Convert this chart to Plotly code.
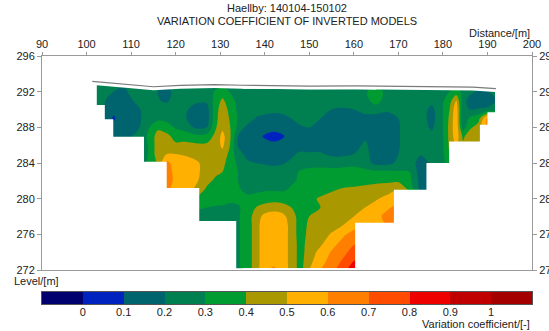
import numpy as np
import plotly.graph_objects as go

# ---------------- data ----------------
DIST = [101, 103.5, 106, 108.5, 111, 113.5, 116, 118, 120, 122, 124.5, 127, 129, 130.5, 132,
        134, 136, 138, 140, 142, 144, 146, 148, 150, 152.5, 155, 157.5, 160, 162.5, 165,
        167.5, 170, 172.5, 175, 177.5, 180, 181.5, 183, 184.5, 186, 188, 190, 192]

LEVEL = [292.8, 292, 291, 290, 289, 288, 287, 286, 285, 284, 283, 282, 281, 280,
         279, 278, 277, 276, 275, 274, 273, 272]

# variation coefficient, one row per level (top to bottom), one value per distance node
VC = [
    [0.25, 0.25, 0.24, 0.22, 0.27, 0.25, 0.24, 0.22, 0.25, 0.25, 0.25, 0.26, 0.27, 0.28, 0.26, 0.25, 0.25, 0.25, 0.25, 0.25,
     0.25, 0.25, 0.25, 0.25, 0.25, 0.25, 0.25, 0.25, 0.26, 0.29, 0.25, 0.25, 0.25, 0.25, 0.25, 0.26, 0.27, 0.28, 0.26, 0.25,
     0.24, 0.24, 0.25],
    [0.25, 0.24, 0.20, 0.16, 0.30, 0.25, 0.20, 0.16, 0.24, 0.25, 0.25, 0.26, 0.31, 0.34, 0.30, 0.26, 0.25, 0.25, 0.25, 0.25,
     0.25, 0.25, 0.25, 0.26, 0.26, 0.26, 0.25, 0.25, 0.28, 0.37, 0.25, 0.25, 0.26, 0.25, 0.25, 0.27, 0.30, 0.34, 0.28, 0.23,
     0.18, 0.19, 0.24],
    [0.25, 0.22, 0.15, 0.13, 0.22, 0.26, 0.21, 0.18, 0.25, 0.25, 0.22, 0.22, 0.34, 0.42, 0.35, 0.27, 0.26, 0.26, 0.26, 0.25,
     0.25, 0.25, 0.25, 0.25, 0.25, 0.24, 0.24, 0.24, 0.26, 0.35, 0.24, 0.25, 0.26, 0.25, 0.23, 0.29, 0.36, 0.50, 0.24, 0.16,
     0.13, 0.14, 0.19],
    [0.25, 0.22, 0.12, 0.13, 0.16, 0.25, 0.27, 0.26, 0.27, 0.22, 0.16, 0.16, 0.36, 0.46, 0.38, 0.28, 0.26, 0.26, 0.24, 0.22,
     0.23, 0.24, 0.25, 0.25, 0.24, 0.20, 0.19, 0.20, 0.23, 0.24, 0.22, 0.24, 0.26, 0.25, 0.17, 0.30, 0.40, 0.57, 0.22, 0.20,
     0.21, 0.22, 0.26],
    [0.25, 0.22, 0.09, 0.14, 0.15, 0.25, 0.27, 0.27, 0.26, 0.21, 0.15, 0.15, 0.37, 0.47, 0.40, 0.29, 0.27, 0.19, 0.17, 0.17,
     0.17, 0.20, 0.23, 0.24, 0.20, 0.15, 0.14, 0.15, 0.17, 0.16, 0.15, 0.20, 0.26, 0.25, 0.16, 0.30, 0.42, 0.58, 0.20, 0.32,
     0.37, 0.62, 0.50],
    [0.25, 0.22, 0.13, 0.15, 0.16, 0.27, 0.38, 0.34, 0.29, 0.26, 0.18, 0.20, 0.39, 0.48, 0.42, 0.27, 0.17, 0.15, 0.14, 0.13,
     0.14, 0.17, 0.19, 0.20, 0.17, 0.13, 0.13, 0.14, 0.16, 0.14, 0.14, 0.19, 0.26, 0.25, 0.18, 0.30, 0.43, 0.58, 0.25, 0.38,
     0.44, 0.62, 0.50],
    [0.25, 0.22, 0.20, 0.16, 0.22, 0.30, 0.44, 0.43, 0.36, 0.35, 0.33, 0.34, 0.43, 0.53, 0.44, 0.20, 0.15, 0.13, 0.09, 0.07,
     0.09, 0.14, 0.14, 0.15, 0.14, 0.13, 0.13, 0.14, 0.18, 0.14, 0.14, 0.19, 0.26, 0.25, 0.23, 0.29, 0.43, 0.56, 0.38, 0.45,
     0.46, 0.50, 0.45],
    [0.25, 0.22, 0.22, 0.22, 0.25, 0.28, 0.45, 0.46, 0.42, 0.43, 0.42, 0.42, 0.45, 0.52, 0.42, 0.19, 0.14, 0.12, 0.13, 0.12,
     0.13, 0.14, 0.15, 0.16, 0.16, 0.14, 0.14, 0.16, 0.22, 0.14, 0.14, 0.19, 0.26, 0.25, 0.25, 0.29, 0.42, 0.52, 0.42, 0.46,
     0.46, 0.45, 0.45],
    [0.25, 0.25, 0.25, 0.25, 0.26, 0.28, 0.45, 0.50, 0.50, 0.49, 0.46, 0.45, 0.45, 0.47, 0.38, 0.24, 0.17, 0.14, 0.14, 0.14,
     0.15, 0.18, 0.22, 0.21, 0.21, 0.18, 0.18, 0.20, 0.23, 0.15, 0.15, 0.20, 0.26, 0.21, 0.25, 0.28, 0.40, 0.50, 0.42, 0.45,
     0.45, 0.45, 0.45],
    [0.28, 0.28, 0.28, 0.28, 0.28, 0.30, 0.42, 0.63, 0.55, 0.54, 0.52, 0.46, 0.44, 0.43, 0.36, 0.28, 0.22, 0.20, 0.19, 0.18,
     0.19, 0.22, 0.26, 0.27, 0.27, 0.26, 0.26, 0.27, 0.24, 0.17, 0.17, 0.22, 0.26, 0.15, 0.22, 0.27, 0.35, 0.45, 0.40, 0.42,
     0.42, 0.42, 0.42],
    [0.30, 0.30, 0.30, 0.30, 0.30, 0.30, 0.50, 0.66, 0.56, 0.56, 0.53, 0.45, 0.42, 0.40, 0.35, 0.30, 0.26, 0.25, 0.25, 0.24,
     0.25, 0.27, 0.31, 0.32, 0.33, 0.33, 0.34, 0.34, 0.33, 0.32, 0.32, 0.31, 0.30, 0.15, 0.20, 0.30, 0.30, 0.30, 0.30, 0.30,
     0.30, 0.30, 0.30],
    [0.30, 0.30, 0.30, 0.30, 0.30, 0.30, 0.55, 0.66, 0.57, 0.56, 0.52, 0.43, 0.38, 0.36, 0.34, 0.30, 0.27, 0.27, 0.27, 0.27,
     0.27, 0.29, 0.31, 0.33, 0.35, 0.35, 0.36, 0.36, 0.37, 0.38, 0.38, 0.38, 0.33, 0.16, 0.20, 0.30, 0.30, 0.30, 0.30, 0.30,
     0.30, 0.30, 0.30],
    [0.30, 0.30, 0.30, 0.30, 0.30, 0.30, 0.55, 0.62, 0.55, 0.55, 0.48, 0.38, 0.36, 0.34, 0.33, 0.31, 0.28, 0.28, 0.29, 0.29,
     0.29, 0.31, 0.32, 0.34, 0.37, 0.39, 0.41, 0.42, 0.43, 0.44, 0.46, 0.50, 0.38, 0.17, 0.20, 0.30, 0.30, 0.30, 0.30, 0.30,
     0.30, 0.30, 0.30],
    [0.40, 0.40, 0.40, 0.40, 0.40, 0.40, 0.40, 0.40, 0.40, 0.40, 0.38, 0.35, 0.34, 0.33, 0.32, 0.32, 0.32, 0.33, 0.35, 0.36,
     0.35, 0.33, 0.34, 0.38, 0.41, 0.43, 0.45, 0.46, 0.47, 0.49, 0.53, 0.57, 0.55, 0.50, 0.50, 0.50, 0.50, 0.50, 0.50, 0.50,
     0.50, 0.50, 0.50],
    [0.35, 0.35, 0.35, 0.35, 0.35, 0.35, 0.35, 0.35, 0.35, 0.35, 0.32, 0.30, 0.29, 0.29, 0.28, 0.29, 0.33, 0.40, 0.44, 0.46,
     0.45, 0.40, 0.35, 0.39, 0.40, 0.42, 0.44, 0.46, 0.50, 0.54, 0.59, 0.62, 0.60, 0.55, 0.55, 0.55, 0.55, 0.55, 0.55, 0.55,
     0.55, 0.55, 0.55],
    [0.30, 0.30, 0.30, 0.30, 0.30, 0.30, 0.30, 0.30, 0.30, 0.30, 0.27, 0.25, 0.25, 0.25, 0.25, 0.29, 0.34, 0.45, 0.53, 0.55,
     0.53, 0.45, 0.35, 0.40, 0.41, 0.44, 0.47, 0.50, 0.53, 0.58, 0.62, 0.64, 0.62, 0.60, 0.60, 0.60, 0.60, 0.60, 0.60, 0.60,
     0.60, 0.60, 0.60],
    [0.25, 0.25, 0.25, 0.25, 0.25, 0.25, 0.25, 0.25, 0.25, 0.25, 0.25, 0.25, 0.25, 0.25, 0.25, 0.29, 0.34, 0.45, 0.57, 0.57,
     0.56, 0.46, 0.35, 0.42, 0.43, 0.46, 0.50, 0.56, 0.60, 0.60, 0.60, 0.60, 0.60, 0.60, 0.60, 0.60, 0.60, 0.60, 0.60, 0.60,
     0.60, 0.60, 0.60],
    [0.25, 0.25, 0.25, 0.25, 0.25, 0.25, 0.25, 0.25, 0.25, 0.25, 0.25, 0.25, 0.25, 0.25, 0.25, 0.29, 0.34, 0.45, 0.57, 0.57,
     0.56, 0.46, 0.35, 0.43, 0.45, 0.51, 0.58, 0.64, 0.67, 0.67, 0.67, 0.67, 0.67, 0.67, 0.67, 0.67, 0.67, 0.67, 0.67, 0.67,
     0.67, 0.67, 0.67],
    [0.25, 0.25, 0.25, 0.25, 0.25, 0.25, 0.25, 0.25, 0.25, 0.25, 0.25, 0.25, 0.25, 0.25, 0.25, 0.29, 0.34, 0.45, 0.57, 0.57,
     0.56, 0.46, 0.36, 0.44, 0.48, 0.56, 0.63, 0.69, 0.72, 0.72, 0.72, 0.72, 0.72, 0.72, 0.72, 0.72, 0.72, 0.72, 0.72, 0.72,
     0.72, 0.72, 0.72],
    [0.25, 0.25, 0.25, 0.25, 0.25, 0.25, 0.25, 0.25, 0.25, 0.25, 0.25, 0.25, 0.25, 0.25, 0.25, 0.29, 0.34, 0.45, 0.57, 0.57,
     0.56, 0.46, 0.36, 0.45, 0.53, 0.61, 0.67, 0.74, 0.78, 0.78, 0.78, 0.78, 0.78, 0.78, 0.78, 0.78, 0.78, 0.78, 0.78, 0.78,
     0.78, 0.78, 0.78],
    [0.25, 0.25, 0.25, 0.25, 0.25, 0.25, 0.25, 0.25, 0.25, 0.25, 0.25, 0.25, 0.25, 0.25, 0.25, 0.29, 0.34, 0.45, 0.57, 0.57,
     0.56, 0.46, 0.36, 0.47, 0.56, 0.64, 0.71, 0.80, 0.85, 0.85, 0.85, 0.85, 0.85, 0.85, 0.85, 0.85, 0.85, 0.85, 0.85, 0.85,
     0.85, 0.85, 0.85],
    [0.25, 0.25, 0.25, 0.25, 0.25, 0.25, 0.25, 0.25, 0.25, 0.25, 0.25, 0.25, 0.25, 0.25, 0.25, 0.29, 0.34, 0.45, 0.58, 0.62,
     0.57, 0.46, 0.36, 0.50, 0.60, 0.67, 0.76, 0.86, 0.90, 0.90, 0.90, 0.90, 0.90, 0.90, 0.90, 0.90, 0.90, 0.90, 0.90, 0.90,
     0.90, 0.90, 0.90],
]

# surface topography line
TOPO_D = [101.3, 106, 110, 115, 121, 128.7, 135, 142.6, 150, 160.6, 168, 175.5, 181, 186.7, 191.9]
TOPO_Z = [293.15, 292.95, 292.75, 292.55, 292.7, 292.8, 292.72, 292.67, 292.62, 292.64, 292.6, 292.55, 292.52, 292.5, 292.35]

# model block boundary (staircase)
LEFT_EDGE_D = [102.3, 104.1, 106.0, 112.9, 118.0, 125.3, 133.6]
LEFT_EDGE_Z = [290.5, 288.9, 286.95, 284.15, 281.2, 277.5, 272.2]
RIGHT_EDGE_D = [191.7, 190.0, 188.3, 181.4, 176.3, 169.0, 160.3]
RIGHT_EDGE_Z = [289.7, 288.3, 286.4, 284.0, 281.0, 277.3, 272.2]
MODEL_BOTTOM = 272.2

CB_COLORS = ['#00006e', '#0022bf', '#00646e', '#008050', '#009c32', '#a99800',
             '#ffb000', '#ff8000', '#ff4c00', '#ee0000', '#c00000', '#a40000']
CB_TICKS = [0, 0.1, 0.2, 0.3, 0.4, 0.5, 0.6, 0.7, 0.8, 0.9, 1.0]
CB_TICKTEXT = ['0', '0.1', '0.2', '0.3', '0.4', '0.5', '0.6', '0.7', '0.8', '0.9', '1']
X_TICKS = [90, 100, 110, 120, 130, 140, 150, 160, 170, 180, 190, 200]
Y_TICKS = [272, 276, 280, 284, 288, 292, 296]

# ---------------- layout helpers ----------------
W, H = 549, 331
ML, MR, MT, MB = 42, 17, 56, 27
PH = H - MT - MB
PW = W - ML - MR


def ypap(py):
    return (H - MB - py) / PH


def xpap(px):
    return (px - ML) / PW


FONT = dict(family='Liberation Sans, Arial, sans-serif', size=11, color='#222222')
AXC = '#9a9a9a'
GAP = 0.38

ncol = len(CB_COLORS)
cscale = [[i / (ncol - 1), c] for i, c in enumerate(CB_COLORS)]

fig = go.Figure()

fig.add_trace(go.Contour(
    x=DIST, y=LEVEL[::-1], z=VC[::-1],
    autocontour=False,
    contours=dict(start=0, end=1, size=0.1, coloring='fill', showlines=False),
    colorscale=cscale, showscale=False,
    line=dict(width=0, smoothing=1),
    hoverinfo='skip'))


def top_at(d):
    return float(np.interp(d, TOPO_D, TOPO_Z)) - GAP


def stairs(ed, ez):
    xs, ys = [], []
    for i in range(len(ed)):
        xs.append(ed[i]); ys.append(ez[i])
        if i + 1 < len(ed):
            xs.append(ed[i + 1]); ys.append(ez[i])
    return xs, ys


SPLIT_L, SPLIT_R = 165, 135
# left white mask
tdl = [SPLIT_L] + [d for d in TOPO_D[::-1] if LEFT_EDGE_D[0] < d < SPLIT_L] + [LEFT_EDGE_D[0]]
sx, sy = stairs(LEFT_EDGE_D, LEFT_EDGE_Z)
lx = [80, 80, SPLIT_L] + tdl + sx + [SPLIT_L, SPLIT_L]
ly = [270, 300, 300] + [top_at(d) for d in tdl] + sy + [MODEL_BOTTOM, 270]
fig.add_trace(go.Scatter(x=lx, y=ly, mode='lines', fill='toself', fillcolor='white',
                         line=dict(width=0, color='white'), hoverinfo='skip'))
# right white mask
tdr = [SPLIT_R] + [d for d in TOPO_D if SPLIT_R < d < RIGHT_EDGE_D[0]] + [RIGHT_EDGE_D[0]]
sx, sy = stairs(RIGHT_EDGE_D, RIGHT_EDGE_Z)
rx = [220, 220, SPLIT_R] + tdr + sx + [SPLIT_R, SPLIT_R]
ry = [270, 300, 300] + [top_at(d) for d in tdr] + sy + [MODEL_BOTTOM, 270]
fig.add_trace(go.Scatter(x=rx, y=ry, mode='lines', fill='toself', fillcolor='white',
                         line=dict(width=0, color='white'), hoverinfo='skip'))

# topography
fig.add_trace(go.Scatter(x=TOPO_D, y=TOPO_Z, mode='lines', line=dict(color='#7a7a7a', width=1.2),
                         hoverinfo='skip'))

# invisible trace to carry the right-hand level axis
fig.add_trace(go.Scatter(x=[DIST[0]], y=[LEVEL[0]], yaxis='y3', mode='markers',
                         marker=dict(opacity=0), hoverinfo='skip'))

# colour legend bar
cb_x = [t - 0.05 for t in CB_TICKS] + [CB_TICKS[-1] + 0.05]
fig.add_trace(go.Heatmap(x=cb_x, y=[0], z=[list(range(ncol))], xaxis='x2', yaxis='y2',
                         colorscale=cscale, zmin=0, zmax=ncol - 1, showscale=False,
                         hoverinfo='skip'))

main_bottom = ypap(270)
cb_top = ypap(292)

common = dict(showgrid=False, zeroline=False, automargin=False, tickfont=FONT)

fig.update_layout(
    template='none',
    width=W, height=H,
    margin=dict(l=ML, r=MR, t=MT, b=MB, autoexpand=False),
    paper_bgcolor='white', plot_bgcolor='white',
    showlegend=False, font=FONT,
    xaxis=dict(domain=[0, 1], anchor='y', side='top', range=[90, 200], tickvals=X_TICKS,
               ticks='outside', ticklen=3, tickcolor=AXC, showline=True, linecolor=AXC,
               linewidth=1, mirror=True, **common),
    yaxis=dict(domain=[main_bottom, 1], anchor='x', range=[272, 296], tickvals=Y_TICKS,
               ticks='outside', ticklen=4, tickcolor=AXC, showline=True, linecolor=AXC,
               linewidth=1, **common),
    yaxis3=dict(overlaying='y', side='right', anchor='x', range=[272, 296], tickvals=Y_TICKS,
                ticks='outside', ticklen=4, tickcolor=AXC, showline=True, linecolor=AXC,
                linewidth=1, **common),
    xaxis2=dict(domain=[0, 1], anchor='y2', range=[-0.1, 1.1], tickvals=CB_TICKS,
                ticktext=CB_TICKTEXT, ticks='', showline=True, mirror=True, linecolor='#555555',
                linewidth=1, ticklabelstandoff=-2, **common),
    yaxis2=dict(domain=[0, cb_top], anchor='x2', range=[-0.5, 0.5], showticklabels=False,
                ticks='', showline=True, mirror=True, linecolor='#555555', linewidth=1,
                showgrid=False, zeroline=False, automargin=False),
)

ann = [
    dict(text='Haellby: 140104-150102', x=0.5, y=ypap(8)),
    dict(text='VARIATION COEFFICIENT OF INVERTED MODELS', x=0.5, y=ypap(21)),
]
for a in ann:
    fig.add_annotation(text=a['text'], x=a['x'], y=a['y'], xref='paper', yref='paper',
                       xanchor='center', yanchor='middle', showarrow=False, font=FONT)
fig.add_annotation(text='Distance/[m]', x=1, y=ypap(33), xref='paper', yref='paper',
                   xanchor='right', yanchor='middle', showarrow=False, font=FONT)
fig.add_annotation(text='Level/[m]', x=xpap(12), y=ypap(281), xref='paper', yref='paper',
                   xanchor='left', yanchor='middle', showarrow=False, font=FONT)
fig.add_annotation(text='Variation coefficient/[-]', x=1, y=ypap(324), xref='paper', yref='paper',
                   xanchor='right', yanchor='middle', showarrow=False, font=FONT)

fig.write_html('out.html', config={'displayModeBar': False})
